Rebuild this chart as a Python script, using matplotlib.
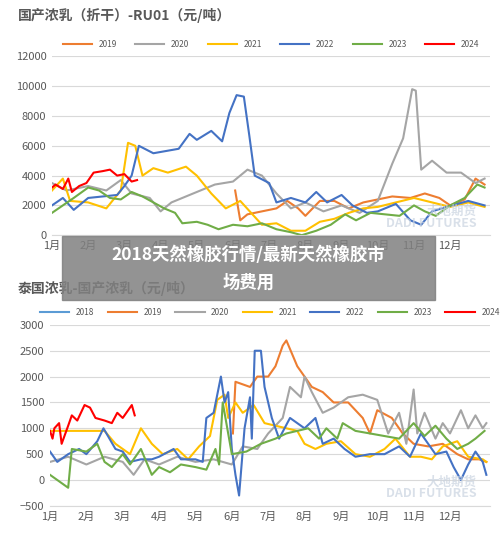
import matplotlib.pyplot as plt
from matplotlib.patches import Rectangle

plt.rcParams['font.family'] = ['Noto Sans CJK SC', 'DejaVu Sans']

COLORS = {'2018': '#5b9bd5', '2019': '#ed7d31', '2020': '#a5a5a5', '2021': '#ffc000',
          '2022': '#4472c4', '2023': '#70ad47', '2024': '#ff0000'}
MONTHS = [f'{m}月' for m in range(1, 13)]

# ---- top chart: 国产浓乳(折干)-RU01 ----
top_x_2019 = [6.06, 6.2, 6.4, 6.8, 7.2, 7.5, 7.8, 8.0, 8.4, 8.8, 9.2, 9.6, 10.0, 10.4, 10.9, 11.3, 11.7, 12.0, 12.4, 12.7, 12.95]
top_y_2019 = [3000, 1000, 1400, 1600, 1800, 2300, 1800, 1300, 2300, 2300, 1800, 2200, 2400, 2600, 2500, 2800, 2500, 2000, 2400, 3800, 3400]
top_x_2020 = [1.0, 1.4, 2.0, 2.5, 2.9, 3.2, 3.7, 4.0, 4.3, 4.7, 5.1, 5.5, 6.0, 6.4, 6.8, 7.2, 7.6, 8.0, 8.5, 9.0, 9.5, 10.0, 10.4, 10.7, 10.95, 11.05, 11.2, 11.5, 11.9, 12.3, 12.7, 12.95]
top_y_2020 = [3500, 3000, 3300, 3000, 3700, 2800, 2500, 1600, 2200, 2600, 3000, 3400, 3600, 4400, 4000, 2800, 1800, 2200, 1600, 2000, 1500, 2300, 4800, 6500, 9800, 9700, 4400, 5000, 4200, 4200, 3500, 3800]
top_x_2021 = [1.0, 1.3, 1.5, 2.0, 2.5, 2.9, 3.1, 3.3, 3.5, 3.8, 4.2, 4.7, 5.0, 5.4, 5.8, 6.2, 6.5, 6.8, 7.2, 7.6, 8.0, 8.4, 8.8, 9.2, 9.6, 10.0, 10.5, 11.0, 11.5, 12.0, 12.5, 12.95]
top_y_2021 = [3000, 3800, 2300, 2200, 1800, 3000, 6200, 6000, 4000, 4500, 4200, 4600, 4000, 2800, 1800, 2300, 1500, 700, 800, 300, 300, 900, 1100, 1500, 1800, 1900, 2200, 2500, 2200, 1900, 2200, 1900]
top_x_2022 = [1.0, 1.3, 1.6, 2.0, 2.8, 3.0, 3.2, 3.4, 3.8, 4.5, 4.8, 5.0, 5.4, 5.7, 5.9, 6.1, 6.3, 6.45, 6.6, 7.0, 7.2, 7.6, 8.0, 8.3, 8.6, 9.0, 9.3, 9.7, 10.0, 10.5, 10.9, 11.2, 11.5, 11.9, 12.5, 12.95]
top_y_2022 = [2000, 2500, 1700, 2500, 2700, 3300, 4000, 6000, 5500, 5800, 6800, 6400, 7000, 6300, 8200, 9400, 9300, 6700, 4000, 3500, 2200, 2500, 2200, 2900, 2200, 2700, 2000, 1500, 1600, 2100, 1000, 700, 1600, 1900, 2300, 2000]
top_x_2023 = [1.0, 1.3, 1.6, 2.0, 2.3, 2.6, 2.9, 3.2, 3.5, 3.8, 4.1, 4.4, 4.6, 5.0, 5.3, 5.6, 6.0, 6.4, 6.8, 7.2, 7.6, 7.9, 8.3, 8.7, 9.1, 9.4, 9.8, 10.2, 10.6, 11.0, 11.3, 11.6, 12.0, 12.4, 12.75, 12.95]
top_y_2023 = [1500, 2000, 2500, 3200, 3000, 2500, 2400, 2900, 2600, 2200, 1800, 1500, 800, 900, 700, 400, 700, 600, 800, 400, 200, 0, 300, 700, 1400, 1000, 1500, 1400, 1300, 2000, 1600, 1300, 2000, 2500, 3400, 3200]
top_x_2024 = [1.0, 1.1, 1.3, 1.45, 1.55, 1.75, 1.95, 2.15, 2.4, 2.6, 2.8, 3.0, 3.2, 3.35]
top_y_2024 = [3200, 3400, 3100, 3800, 2900, 3300, 3500, 4200, 4300, 4400, 4000, 4100, 3600, 3700]

# ---- bottom chart: 泰国浓乳-国产浓乳 ----
bot_x_2018 = [1.0, 1.01]
bot_y_2018 = [550, 550]
bot_x_2019 = [6.03, 6.1, 6.5, 6.7, 7.0, 7.2, 7.4, 7.5, 7.8, 8.0, 8.2, 8.5, 8.8, 9.2, 9.6, 9.8, 10.0, 10.4, 10.7, 11.0, 11.4, 11.8, 12.2, 12.5, 12.8, 13.0]
bot_y_2019 = [900, 1900, 1800, 2000, 2000, 2200, 2600, 2700, 2200, 2000, 1800, 1700, 1500, 1500, 1200, 900, 1350, 1200, 900, 700, 650, 700, 500, 400, 400, 350]
bot_x_2020 = [1.0, 1.5, 2.0, 2.5, 3.0, 3.3, 3.6, 4.0, 4.5, 5.0, 5.5, 6.0, 6.3, 6.7, 7.0, 7.4, 7.6, 7.9, 8.0, 8.2, 8.5, 8.8, 9.2, 9.6, 10.0, 10.3, 10.6, 10.8, 11.0, 11.1, 11.3, 11.6, 11.8, 12.0, 12.3, 12.5, 12.7, 12.9, 13.0]
bot_y_2020 = [350, 450, 300, 450, 350, 100, 400, 300, 450, 350, 400, 300, 650, 600, 900, 1200, 1800, 1600, 2000, 1700, 1300, 1400, 1600, 1650, 1550, 900, 1300, 700, 1750, 900, 1300, 800, 1100, 900, 1350, 1000, 1250, 1000, 1100]
bot_x_2021 = [1.0, 2.5, 2.8, 3.2, 3.5, 3.8, 4.1, 4.5, 4.8, 5.1, 5.4, 5.6, 5.8, 5.9, 6.1, 6.3, 6.6, 6.9, 7.2, 7.5, 7.8, 8.0, 8.3, 8.6, 9.0, 9.4, 9.8, 10.2, 10.5, 10.9, 11.2, 11.5, 11.8, 12.2, 12.5, 12.9, 13.0]
bot_y_2021 = [950, 950, 700, 500, 1000, 700, 500, 600, 400, 650, 850, 1550, 1650, 1200, 1500, 1300, 1450, 1100, 1050, 1000, 950, 700, 600, 700, 750, 500, 450, 600, 800, 450, 450, 400, 650, 750, 450, 400, 350]
bot_x_2022 = [1.0, 1.2, 1.5, 1.8, 2.0, 2.3, 2.47, 2.8, 3.0, 3.2, 3.5, 3.8, 4.0, 4.4, 4.6, 5.0, 5.2, 5.3, 5.5, 5.7, 5.8, 5.9, 6.0, 6.1, 6.2, 6.35, 6.5, 6.55, 6.63, 6.8, 6.9, 7.1, 7.3, 7.6, 8.0, 8.3, 8.5, 8.8, 9.1, 9.4, 9.8, 10.2, 10.6, 10.9, 11.2, 11.6, 11.9, 12.1, 12.3, 12.5, 12.7, 12.9, 13.0]
bot_y_2022 = [550, 350, 500, 600, 500, 750, 1000, 600, 550, 350, 400, 400, 450, 600, 400, 400, 350, 1200, 1300, 2000, 1500, 1700, 600, 100, -300, 1000, 1600, 800, 2500, 2500, 1800, 1200, 800, 1200, 1000, 1200, 700, 800, 600, 450, 500, 500, 650, 450, 900, 500, 550, 250, 0, 300, 550, 350, 100]
bot_x_2023 = [1.0, 1.3, 1.5, 1.6, 2.0, 2.3, 2.5, 2.7, 3.0, 3.2, 3.5, 3.8, 4.0, 4.3, 4.6, 5.0, 5.3, 5.55, 5.65, 5.75, 6.0, 6.4, 6.8, 7.2, 7.5, 7.8, 8.1, 8.4, 8.6, 8.9, 9.05, 9.4, 9.8, 10.2, 10.6, 11.0, 11.3, 11.6, 11.9, 12.2, 12.5, 12.7, 12.95]
bot_y_2023 = [100, -50, -150, 600, 550, 700, 350, 250, 500, 300, 600, 100, 250, 150, 300, 250, 200, 600, 300, 1500, 500, 550, 700, 800, 900, 950, 1000, 800, 1000, 800, 1100, 950, 900, 850, 800, 1100, 850, 1050, 800, 600, 700, 800, 950]
bot_x_2024 = [1.0, 1.07, 1.12, 1.25, 1.32, 1.5, 1.6, 1.75, 1.95, 2.1, 2.25, 2.5, 2.7, 2.85, 3.0, 3.1, 3.25, 3.33]
bot_y_2024 = [950, 800, 1000, 1100, 700, 1050, 1250, 1150, 1450, 1400, 1200, 1150, 1100, 1300, 1200, 1300, 1450, 1250]

top_series = {'2019': (top_x_2019, top_y_2019), '2020': (top_x_2020, top_y_2020),
              '2021': (top_x_2021, top_y_2021), '2022': (top_x_2022, top_y_2022),
              '2023': (top_x_2023, top_y_2023), '2024': (top_x_2024, top_y_2024)}
bot_series = {'2018': (bot_x_2018, bot_y_2018), '2019': (bot_x_2019, bot_y_2019),
              '2020': (bot_x_2020, bot_y_2020), '2021': (bot_x_2021, bot_y_2021),
              '2022': (bot_x_2022, bot_y_2022), '2023': (bot_x_2023, bot_y_2023),
              '2024': (bot_x_2024, bot_y_2024)}


def style_axes(ax, ylim, yticks):
    ax.set_xlim(1, 13.1)
    ax.set_ylim(*ylim)
    ax.set_yticks(yticks)
    ax.set_xticks(range(1, 13))
    ax.set_xticklabels(MONTHS)
    ax.grid(axis='y', color='#d9d9d9', lw=0.8)
    ax.set_axisbelow(True)
    for s in ['top', 'right', 'left']:
        ax.spines[s].set_visible(False)
    ax.spines['bottom'].set_color('#d9d9d9')
    ax.tick_params(length=0, labelsize=8, colors='#595959', pad=4)


fig = plt.figure(figsize=(5, 5.37), dpi=100)

ax1 = fig.add_axes([0.104, 0.562, 0.876, 0.333])
for name, (x, y) in top_series.items():
    ax1.plot(x, y, color=COLORS[name], lw=1.5, label=name)
style_axes(ax1, (0, 12000), range(0, 12001, 2000))
ax1.legend(loc='lower center', bbox_to_anchor=(0.5, 1.0), ncol=6, frameon=False,
           fontsize=6, handlelength=3.5, columnspacing=2.2, labelcolor='#595959')
fig.text(0.035, 0.962, '国产浓乳（折干）-RU01（元/吨）', fontsize=10, fontweight='bold', color='#595959')

ax2 = fig.add_axes([0.1, 0.058, 0.88, 0.337])
for name, (x, y) in bot_series.items():
    ax2.plot(x, y, color=COLORS[name], lw=1.5, label=name)
style_axes(ax2, (-500, 3000), range(-500, 3001, 500))
ax2.legend(loc='lower center', bbox_to_anchor=(0.5, 1.0), ncol=7, frameon=False,
           fontsize=6, handlelength=3.5, columnspacing=1.6, labelcolor='#595959')
fig.text(0.035, 0.455, '泰国浓乳-国产浓乳（元/吨）', fontsize=10, fontweight='bold', color='#595959')

# watermarks
for ax in (ax1, ax2):
    ax.text(0.97, 0.1, '大地期货\nDADI FUTURES', transform=ax.transAxes, ha='right', va='center',
            fontsize=9, color='#c9d3e0', alpha=0.7, fontweight='bold', linespacing=0.9)

# overlay banner
fig.patches.append(Rectangle((0.124, 0.441), 0.746, 0.12, transform=fig.transFigure,
                             color='#808080', alpha=0.85, zorder=10))
fig.text(0.497, 0.525, '2018天然橡胶行情/最新天然橡胶市', ha='center', va='center',
         fontsize=12.5, fontweight='bold', color='white', zorder=11)
fig.text(0.497, 0.474, '场费用', ha='center', va='center',
         fontsize=12.5, fontweight='bold', color='white', zorder=11)

fig.savefig('out.png', dpi=100)
